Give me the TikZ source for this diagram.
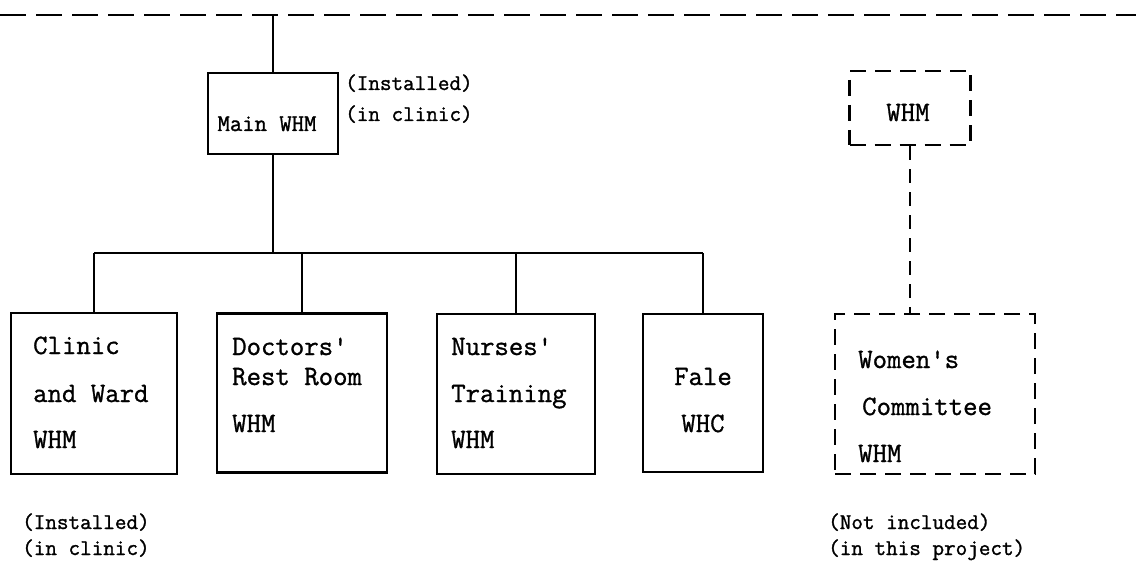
\documentclass[tikz,border=0pt]{standalone}
\newcommand\heavytext{\special{pdf:literal direct 2 Tr 0.3 w}}
\begin{document}
\begin{tikzpicture}[x=1pt,y=-1pt,
  box/.style={draw, line width=2.3pt, inner sep=0pt},
  nbox/.style={box, dash pattern=on 16pt off 9pt},
  txt/.style={anchor=base west, inner sep=0pt},
  ctxt/.style={anchor=base, inner sep=0pt},
  big/.style={font=\ttfamily\fontsize{28}{28}\selectfont\heavytext},
  mid/.style={font=\ttfamily\fontsize{24}{24}\selectfont\heavytext},
  small/.style={font=\ttfamily\fontsize{22.5}{22.5}\selectfont\heavytext},
  conn/.style={line width=1.8pt},
  dconn/.style={line width=1.8pt, dash pattern=on 14pt off 9pt}]
\useasboundingbox (0,0) rectangle (1136,567);
% reference line at the top
\coordinate (tl) at (0,15);
\coordinate (tr) at (1136,15);
\draw[line width=1.5pt, dash pattern=on 26pt off 10pt] (tl) -- (tr);
% boxes
\node[box, minimum width=130pt, minimum height=81pt] (main) at (273,113.5) {};
\node[box, minimum width=166pt, minimum height=161pt] (clinic) at (94,393.5) {};
\node[box, minimum width=170pt, minimum height=159pt] (doctors) at (302,393) {};
\node[box, minimum width=158pt, minimum height=160pt] (nurses) at (516,394) {};
\node[box, minimum width=120pt, minimum height=158pt] (fale) at (703,393) {};
\node[nbox, minimum width=121pt, minimum height=74pt] (whm) at (910,108) {};
\node[nbox, minimum width=200pt, minimum height=160pt] (women) at (935,394) {};
% texts
\node[ctxt, mid] (mainT) at (267,131) {Main WHM};
\node[txt, small] (instT1) at (345,90) {(Installed)};
\node[txt, small] (instT2) at (345,121) {(in clinic)};
\node[txt, big] (c1) at (33,354) {Clinic};
\node[txt, big] (c2) at (33,402) {and Ward};
\node[txt, big] (c3) at (33,448) {WHM};
\node[txt, big] (d1) at (232,355) {Doctors'};
\node[txt, big] (d2) at (232,385) {Rest Room};
\node[txt, big] (d3) at (232,432) {WHM};
\node[txt, big] (n1) at (451,355) {Nurses'};
\node[txt, big] (n2) at (451,402) {Training};
\node[txt, big] (n3) at (451,448) {WHM};
\node[ctxt, big] (f1) at (703,385) {Fale};
\node[ctxt, big] (f2) at (703,432) {WHC};
\node[ctxt, big] (w0) at (908,121) {WHM};
\node[txt, big] (w1) at (858,368) {Women's};
\node[txt, big] (w2) at (862,415) {Committee};
\node[txt, big] (w3) at (858,462) {WHM};
\node[txt, small] (b1) at (22,529) {(Installed)};
\node[txt, small] (b2) at (22,555) {(in clinic)};
\node[txt, small] (b3) at (828,529) {(Not included)};
\node[txt, small] (b4) at (828,555) {(in this project)};
% connectors
\coordinate (bus) at (0,253);
\draw[conn] (main.north) -- (main.north |- tl);
\draw[conn] (main.south) -- (main.south |- bus);
\draw[conn] (clinic.north |- bus) -- (fale.north |- bus);
\draw[conn] (clinic.north |- bus) -- (clinic.north);
\draw[conn] (doctors.north |- bus) -- (doctors.north);
\draw[conn] (nurses.north |- bus) -- (nurses.north);
\draw[conn] (fale.north |- bus) -- (fale.north);
\draw[dconn] (whm.south) -- (whm.south |- women.north);
\end{tikzpicture}
\end{document}
